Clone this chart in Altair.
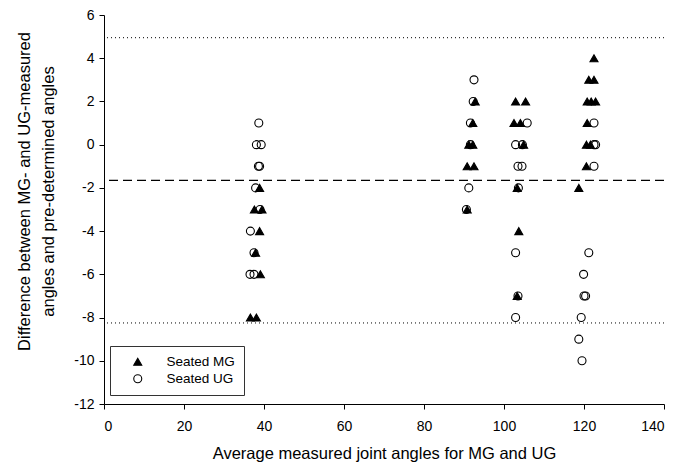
import altair as alt
import pandas as pd

# ---- data ----
mg_x = [36.6, 38.1, 39.1, 37.9, 38.9, 37.6, 39.5, 38.9,
        92.8, 92.2, 91.2, 92.2, 90.8, 92.5, 90.8,
        102.9, 105.4, 102.5, 104.1, 104.9, 103.3, 103.7, 103.3,
        122.5, 121.2, 122.5, 120.8, 121.8, 122.9, 120.8, 120.6, 121.6, 120.6, 118.7]
mg_y = [-8, -8, -6, -5, -4, -3, -3, -2,
        2, 1, 0, 0, -1, -1, -3,
        2, 2, 1, 1, 0, -2, -4, -7,
        4, 3, 3, 2, 2, 2, 1, 0, 0, -1, -2]
ug_x = [38.7, 38.1, 39.3, 38.6, 38.9, 37.9, 39.0, 36.6, 37.5, 36.5, 37.5,
        92.5, 92.3, 91.6, 91.6, 91.2, 90.6,
        105.8, 102.9, 104.6, 103.5, 104.5, 103.6, 102.9, 103.5, 102.9,
        122.5, 122.5, 122.9, 122.5, 121.2, 119.9, 120.0, 120.4, 119.3, 118.7, 119.5]
ug_y = [1, 0, 0, -1, -1, -2, -3, -4, -5, -6, -6,
        3, 2, 1, 0, -2, -3,
        1, 0, 0, -1, -1, -2, -5, -7, -8,
        1, 0, 0, -1, -5, -6, -7, -7, -8, -9, -10]

groups = ["Seated MG", "Seated UG"]
limit_lines = [4.95, -8.25]
mean_line = [-1.65]

x_ticks = [0, 20, 40, 60, 80, 100, 120, 140]
y_ticks = [-12, -10, -8, -6, -4, -2, 0, 2, 4, 6]

x_title = "Average measured joint angles for MG and UG"
y_title = ["Difference between MG- and UG-measured", "angles and pre-determined angles"]

# ---- tables ----
pts = pd.DataFrame({
    "x": mg_x + ug_x,
    "y": mg_y + ug_y,
    "group": [groups[0]] * len(mg_x) + [groups[1]] * len(ug_x),
})
lim_df = pd.DataFrame({"y": limit_lines})
mean_df = pd.DataFrame({"y": mean_line})

xs = alt.Scale(domain=[0, 140], nice=False, zero=False)
ys = alt.Scale(domain=[-12, 6], nice=False, zero=False)


def y_enc():
    return alt.Y("y:Q", scale=ys,
                 axis=alt.Axis(values=y_ticks, title=y_title, labelExpr="'' + datum.value",
                               labelPadding=5, titleX=-72, titleY=176,
                               titleLineHeight=24))


dotted = alt.Chart(lim_df).mark_rule(color="black", strokeDash=[1, 3], strokeWidth=1).encode(y=y_enc())
dashed = alt.Chart(mean_df).mark_rule(color="black", strokeDash=[9, 5], strokeWidth=1.2).encode(y=y_enc())

leg = alt.Legend(title=None)
points = alt.Chart(pts).mark_point(filled=True, strokeWidth=1.1, opacity=1, size=64).encode(
    x=alt.X("x:Q", scale=xs, axis=alt.Axis(values=x_ticks, title=x_title, labelPadding=10, titlePadding=12)),
    y=y_enc(),
    shape=alt.Shape("group:N", scale=alt.Scale(domain=groups, range=["triangle-up", "circle"]), legend=leg),
    fill=alt.Fill("group:N", scale=alt.Scale(domain=groups, range=["black", "transparent"]), legend=leg),
    stroke=alt.Stroke("group:N", scale=alt.Scale(domain=groups, range=["black", "black"]), legend=leg),
)

chart = alt.layer(dotted, dashed, points).properties(
    width=560, height=389,
    autosize=alt.AutoSizeParams(type="none"),
    padding={"left": 104, "top": 15, "right": 24, "bottom": 67},
).configure_view(stroke=None).configure_axis(
    grid=False,
    domainColor="black", tickColor="black", labelColor="black", titleColor="black",
    labelFont="Liberation Sans", titleFont="Liberation Sans",
    labelFontSize=14, titleFontSize=16.5, titleFontWeight="normal",
    tickSize=5,
).configure_legend(
    orient="none", legendX=6, legendY=331,
    strokeColor="#333333", padding=9,
    symbolOffset=12, labelOffset=22,
    labelFont="Liberation Sans", labelFontSize=13.5, labelColor="black",
    rowPadding=2, symbolSize=64, symbolStrokeWidth=1.1,
)

chart.save("out.html", embed_options={"renderer": "svg", "actions": False})
